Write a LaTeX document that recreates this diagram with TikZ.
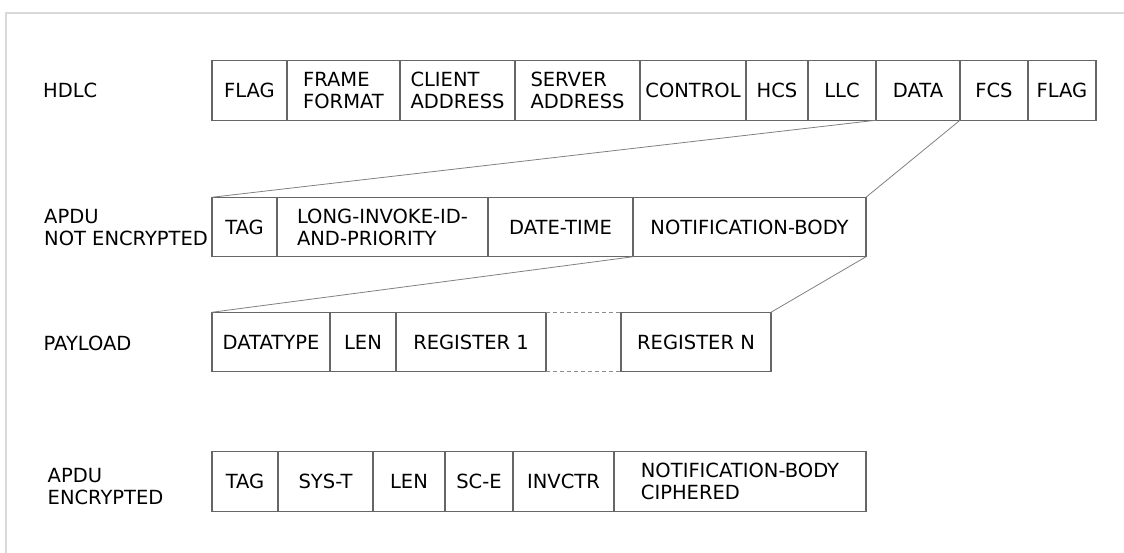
\documentclass[tikz,border=0pt]{standalone}
\usepackage{fontspec}
\setmainfont{DejaVu Sans}
\newcommand{\fieldfont}{\fontsize{19.5}{22}\selectfont}

\begin{document}
\begin{tikzpicture}[x=1pt,y=-1pt,
  field/.style={draw=black!60,line width=1.2pt,anchor=west,minimum height=59.5pt,
    inner xsep=3pt,inner ysep=0pt,outer sep=0pt,align=left,font=\fieldfont},
  lbl/.style={anchor=west,inner sep=0pt,align=left,font=\fieldfont},
  link/.style={draw=black!50,line width=0.8pt},
  gap/.style={draw=black!45,line width=1pt,dash pattern=on 4pt off 3pt}]
  \useasboundingbox (0,0) rectangle (1124,553);
  \draw[draw=black!15,line width=2pt] (5.5,553) -- (5.5,13.5) -- (1124,13.5);

  % HDLC frame
  \node[lbl] (lhdlc) at (43,90.5) {HDLC};
  \node[field,minimum width=75pt] (hflag) at (212,90.5) {FLAG};
  \node[field,minimum width=113pt] (hfmt) at (287,90.5) {FRAME\\FORMAT};
  \node[field,minimum width=115pt] (hcli) at (400,90.5) {CLIENT\\ADDRESS};
  \node[field,minimum width=125pt] (hsrv) at (515,90.5) {SERVER\\ADDRESS};
  \node[field,minimum width=106pt] (hctl) at (640,90.5) {CONTROL};
  \node[field,minimum width=62pt] (hhcs) at (746,90.5) {HCS};
  \node[field,minimum width=68pt] (hllc) at (808,90.5) {LLC};
  \node[field,minimum width=84pt] (hdata) at (876,90.5) {DATA};
  \node[field,minimum width=68pt] (hfcs) at (960,90.5) {FCS};
  \node[field,minimum width=68pt] (hflagb) at (1028,90.5) {FLAG};

  % APDU not encrypted
  \node[lbl] (lplain) at (44,228) {APDU\\NOT ENCRYPTED};
  \node[field,minimum width=65pt] (ntag) at (212,227) {TAG};
  \node[field,minimum width=211pt] (nid) at (277,227) {LONG-INVOKE-ID-\\AND-PRIORITY};
  \node[field,minimum width=145pt] (ntime) at (488,227) {DATE-TIME};
  \node[field,minimum width=233pt] (nbody) at (633,227) {NOTIFICATION-BODY};

  % payload
  \node[lbl] (lpay) at (43.5,343) {PAYLOAD};
  \node[field,minimum width=118pt] (ptype) at (212,342) {DATATYPE};
  \node[field,minimum width=66pt] (plen) at (330,342) {LEN};
  \node[field,minimum width=150pt] (preg) at (396,342) {REGISTER 1};
  \node[field,minimum width=150pt] (pregn) at (621,342) {REGISTER N};
  \draw[gap] (preg.north east) -- (pregn.north west);
  \draw[gap] (preg.south east) -- (pregn.south west);

  % APDU encrypted
  \node[lbl] (lciph) at (47.5,486.5) {APDU\\ENCRYPTED};
  \node[field,minimum width=66pt] (etag) at (212,481.5) {TAG};
  \node[field,minimum width=95pt] (esys) at (278,481.5) {SYS-T};
  \node[field,minimum width=72pt] (elen) at (373,481.5) {LEN};
  \node[field,minimum width=68pt] (esc) at (445,481.5) {SC-E};
  \node[field,minimum width=101pt] (einv) at (513,481.5) {INVCTR};
  \node[field,minimum width=252pt] (ebody) at (614,481.5) {NOTIFICATION-BODY\\CIPHERED};

  \draw[link] (hdata.south west) -- (ntag.north west);
  \draw[link] (hfcs.south west) -- (nbody.north east);
  \draw[link] (nbody.south west) -- (ptype.north west);
  \draw[link] (nbody.south east) -- (pregn.north east);
\end{tikzpicture}
\end{document}
